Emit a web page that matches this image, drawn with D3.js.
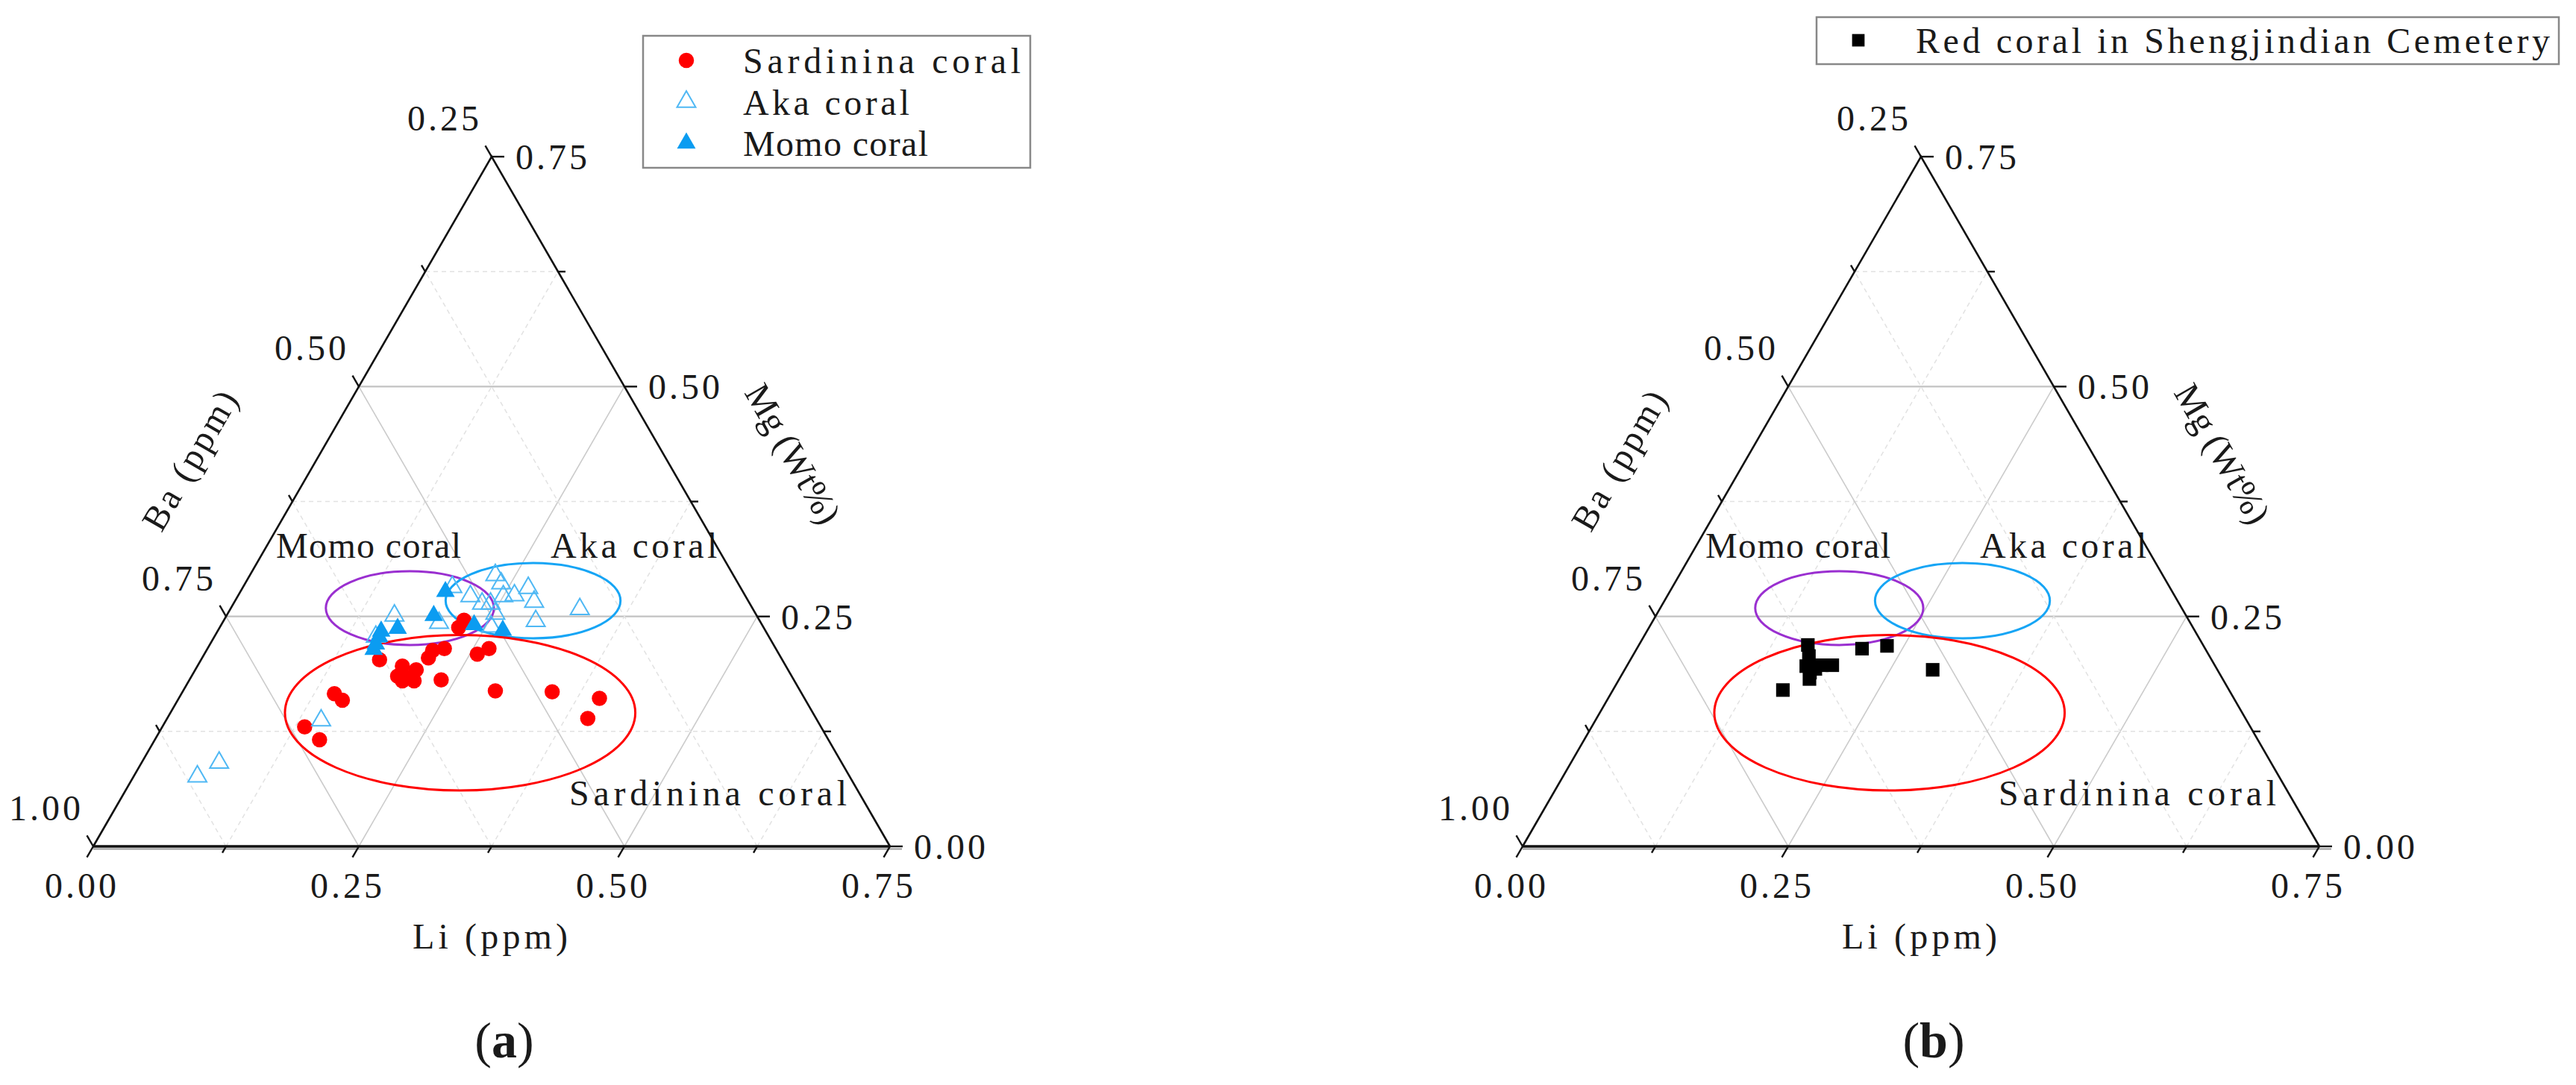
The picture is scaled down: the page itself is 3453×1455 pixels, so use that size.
<!DOCTYPE html>
<html>
<head>
<meta charset="utf-8">
<script src="https://cdn.jsdelivr.net/npm/d3@7"></script>
<style>
body { margin: 0; background: #fff; }
text { font-family: "Liberation Serif", "DejaVu Serif", serif; fill: #1a1a1a; }
</style>
</head>
<body>
<svg id="chart" width="3453" height="1455"></svg>
<script>
// ternary points as [Li, Mg]  (Ba = 1 - Li - Mg)
var sardinina = [
    [0.168, 0.203], [0.193, 0.196], [0.208, 0.192], [0.194, 0.185], [0.202, 0.184],
    [0.212, 0.180], [0.201, 0.180], [0.213, 0.213], [0.213, 0.205], [0.223, 0.215],
    [0.237, 0.181], [0.225, 0.238], [0.226, 0.246], [0.257, 0.209], [0.265, 0.215],
    [0.294, 0.169], [0.348, 0.168], [0.396, 0.161], [0.396, 0.139], [0.144, 0.166],
    [0.155, 0.159], [0.134, 0.130], [0.155, 0.116]
];
var aka = [
    [0.231, 0.295], [0.241, 0.286], [0.260, 0.273], [0.250, 0.272], [0.269, 0.281],
    [0.282, 0.266], [0.329, 0.258], [0.294, 0.245], [0.242, 0.264], [0.252, 0.253],
    [0.255, 0.239], [0.219, 0.272], [0.234, 0.264], [0.197, 0.282], [0.204, 0.243],
    [0.158, 0.251], [0.152, 0.228], [0.146, 0.137], [0.073, 0.091], [0.060, 0.076]
];
var momo = [
    [0.193, 0.277], [0.195, 0.251], [0.168, 0.237], [0.154, 0.234], [0.155, 0.228],
    [0.157, 0.214], [0.156, 0.220], [0.238, 0.241], [0.268, 0.235]
];
var shengjindian = [
    [0.159, 0.219], [0.166, 0.207], [0.169, 0.196], [0.179, 0.193], [0.193, 0.197],
    [0.179, 0.182], [0.160, 0.170], [0.212, 0.215], [0.234, 0.218], [0.290, 0.192],
    [0.176, 0.189], [0.183, 0.197]
];

// axis ticks
var axisTicks = [0, 0.125, 0.25, 0.375, 0.5, 0.625, 0.75];
var gridVals = [0.125, 0.25, 0.375, 0.5, 0.625];
var liLabels = ["0.00", "0.25", "0.50", "0.75"];
var mgLabels = ["0.00", "0.25", "0.50", "0.75"];
var baLabels = ["1.00", "0.75", "0.50", "0.25"];

// group regions (ellipses), centre [Li, Mg], radii [Li units, Mg units]
var regionNames = ["Momo coral", "Aka coral", "Sardinina coral"];
var regionCenters = [[0.1685, 0.2591], [0.2804, 0.2672], [0.2727, 0.1453]];
var regionRadii = [[0.0791, 0.0401], [0.0823, 0.0409], [0.1649, 0.0845]];

var W = 3453, H = 1455;
var side = 1068, triH = side * Math.sqrt(3) / 2;
var FS = 48, CW = 24.8;
var regionColors = ["#9a2fd0", "#16a5f5", "#ff0000"];
var regionLabelPos = [[0.0152, 0.3138], [0.2736, 0.3138], [0.4258, 0.0446]];

var svg = d3.select("#chart");
svg.append("rect").attr("width", W).attr("height", H).attr("fill", "#fff");

function addText(g, str, x, y, anchor, cw) {
    return g.append("text")
        .attr("x", x).attr("y", y)
        .attr("text-anchor", anchor || "start")
        .attr("font-size", FS)
        .attr("textLength", str.length * (cw || CW))
        .attr("lengthAdjust", "spacing")
        .text(str);
}

var sym = {
    circle: d3.symbol().type(d3.symbolCircle).size(330),
    tri: d3.symbol().type(d3.symbolTriangle).size(270),
    square: d3.symbol().type(d3.symbolSquare).size(330)
};

function drawPanel(x0, y0, series) {
    var xs = d3.scaleLinear().domain([0, 0.75]).range([0, side]);
    var ys = d3.scaleLinear().domain([0, 0.75]).range([0, triH]);
    function proj(li, mg) { return [x0 + xs(li) + xs(mg) / 2, y0 - ys(mg)]; }

    var g = svg.append("g");

    // grid
    gridVals.forEach(function(c) {
        var major = (c === 0.25 || c === 0.5);
        var segs = [[[0, c], [0.75 - c, c]], [[c, 0], [c, 0.75 - c]], [[c, 0], [0, c]]];
        segs.forEach(function(s, i) {
            var a = proj(s[0][0], s[0][1]), b = proj(s[1][0], s[1][1]);
            g.append("line")
                .attr("x1", a[0]).attr("y1", a[1]).attr("x2", b[0]).attr("y2", b[1])
                .attr("stroke", major ? (i === 0 ? "#c2c2c2" : "#cbcbcb") : "#e2e2e2")
                .attr("stroke-width", major ? (i === 0 ? 2.2 : 1.6) : 1.5)
                .attr("stroke-dasharray", major ? null : "6,5");
        });
    });

    // region ellipses
    regionNames.forEach(function(n, i) {
        var c = proj(regionCenters[i][0], regionCenters[i][1]);
        g.append("ellipse")
            .attr("cx", c[0]).attr("cy", c[1])
            .attr("rx", xs(regionRadii[i][0])).attr("ry", ys(regionRadii[i][1]))
            .attr("fill", "none").attr("stroke", regionColors[i]).attr("stroke-width", 3);
        var lp = proj(regionLabelPos[i][0], regionLabelPos[i][1]);
        addText(g, n, lp[0], lp[1], "start");
    });

    // data
    series.forEach(function(s) {
        g.append("g").selectAll("path")
            .data(s.data).enter().append("path")
            .attr("transform", function(d) { return "translate(" + proj(d[0], d[1]) + ")"; })
            .attr("d", sym[s.shape])
            .attr("fill", s.fill).attr("stroke", s.stroke).attr("stroke-width", s.sw || 0);
    });

    // frame
    var bl = proj(0, 0), br = proj(0.75, 0), tp = proj(0, 0.75);
    g.append("path")
        .attr("d", "M" + bl + "L" + tp + "L" + br)
        .attr("fill", "none").attr("stroke", "#111").attr("stroke-width", 2.6);
    g.append("line").attr("x1", bl[0]).attr("y1", bl[1] + 3.5).attr("x2", br[0] + 16).attr("y2", br[1] + 3.5)
        .attr("stroke", "#9a9a9a").attr("stroke-width", 2);
    g.append("line").attr("x1", bl[0]).attr("y1", bl[1]).attr("x2", br[0]).attr("y2", br[1])
        .attr("stroke", "#111").attr("stroke-width", 3.4);

    // ticks and labels
    var c60 = 0.5, s60 = Math.sqrt(3) / 2;
    axisTicks.forEach(function(t, i) {
        var major = i % 2 === 0, len = major ? 17 : 10, k = i / 2;
        // Li (bottom)
        var b = proj(t, 0);
        g.append("line").attr("x1", b[0]).attr("y1", b[1])
            .attr("x2", b[0] - len * c60).attr("y2", b[1] + len * s60)
            .attr("stroke", "#111").attr("stroke-width", 2.4);
        if (major) addText(g, liLabels[k], b[0] - 17, b[1] + 69, "middle", 24);
        // Mg (right)
        b = proj(0.75 - t, t);
        g.append("line").attr("x1", b[0]).attr("y1", b[1])
            .attr("x2", b[0] + len).attr("y2", b[1])
            .attr("stroke", "#111").attr("stroke-width", 2.4);
        if (major) addText(g, mgLabels[k], b[0] + 32, b[1] + 17, "start", 24);
        // Ba (left), Ba = 1 - Mg on this edge
        b = proj(0, t);
        g.append("line").attr("x1", b[0]).attr("y1", b[1])
            .attr("x2", b[0] - len * c60).attr("y2", b[1] - len * s60)
            .attr("stroke", "#111").attr("stroke-width", 2.4);
        if (major) addText(g, baLabels[k], b[0] - 17, b[1] - 35, "end", 24);
    });

    // axis titles
    addText(g, "Li (ppm)", x0 + side / 2 - 2, y0 + 137, "middle", 26);
    var lm = proj(0, 0.375);
    var bc = [lm[0] - 147 * s60 - 21 * c60, lm[1] - 147 * c60 + 21 * s60];
    addText(g, "Ba (ppm)", 0, 0, "middle", 26)
        .attr("dominant-baseline", "central")
        .attr("transform", "translate(" + bc + ") rotate(-60)");
    var rm = proj(0.375, 0.375);
    var mc = [rm[0] + 151 * s60 + 13 * c60, rm[1] - 151 * c60 + 13 * s60];
    addText(g, "Mg (Wt%)", 0, 0, "middle", 26)
        .attr("dominant-baseline", "central")
        .attr("transform", "translate(" + mc + ") rotate(60)");
}

var colRed = "#ff0000", colMomo = "#0b9cf1", colAka = "#4fb8f4";

drawPanel(125, 1135, [
    { data: sardinina, shape: "circle", fill: colRed, stroke: "none" },
    { data: aka, shape: "tri", fill: "none", stroke: colAka, sw: 2 },
    { data: momo, shape: "tri", fill: colMomo, stroke: "none" }
]);
drawPanel(2041, 1135, [
    { data: shengjindian, shape: "square", fill: "#000", stroke: "none" }
]);

// legend (a)
var legA = svg.append("g");
legA.append("rect").attr("x", 862).attr("y", 48).attr("width", 519).attr("height", 177)
    .attr("fill", "#fff").attr("stroke", "#888").attr("stroke-width", 2.5);
var legItems = [
    { name: "Sardinina coral", shape: "circle", fill: colRed, stroke: "none", sw: 0 },
    { name: "Aka coral", shape: "tri", fill: "none", stroke: colAka, sw: 2 },
    { name: "Momo coral", shape: "tri", fill: colMomo, stroke: "none", sw: 0 }
];
legItems.forEach(function(d, i) {
    var y = 81 + i * 55.5;
    legA.append("path").attr("transform", "translate(920," + y + ")")
        .attr("d", sym[d.shape]).attr("fill", d.fill).attr("stroke", d.stroke).attr("stroke-width", d.sw);
    addText(legA, d.name, 996, y + 17, "start");
});

// legend (b)
var legB = svg.append("g");
legB.append("rect").attr("x", 2435).attr("y", 23).attr("width", 995).attr("height", 63)
    .attr("fill", "#fff").attr("stroke", "#888").attr("stroke-width", 2.5);
legB.append("path").attr("transform", "translate(2491,54)")
    .attr("d", d3.symbol().type(d3.symbolSquare).size(280)).attr("fill", "#000");
addText(legB, "Red coral in Shengjindian Cemetery", 2568, 71, "start", 25);

// captions
[["a", 676], ["b", 2592]].forEach(function(c) {
    var t = svg.append("text").attr("x", c[1]).attr("y", 1418)
        .attr("text-anchor", "middle").attr("font-size", 68);
    t.append("tspan").text("(");
    t.append("tspan").attr("font-weight", "bold").text(c[0]);
    t.append("tspan").text(")");
});
</script>
</body>
</html>
